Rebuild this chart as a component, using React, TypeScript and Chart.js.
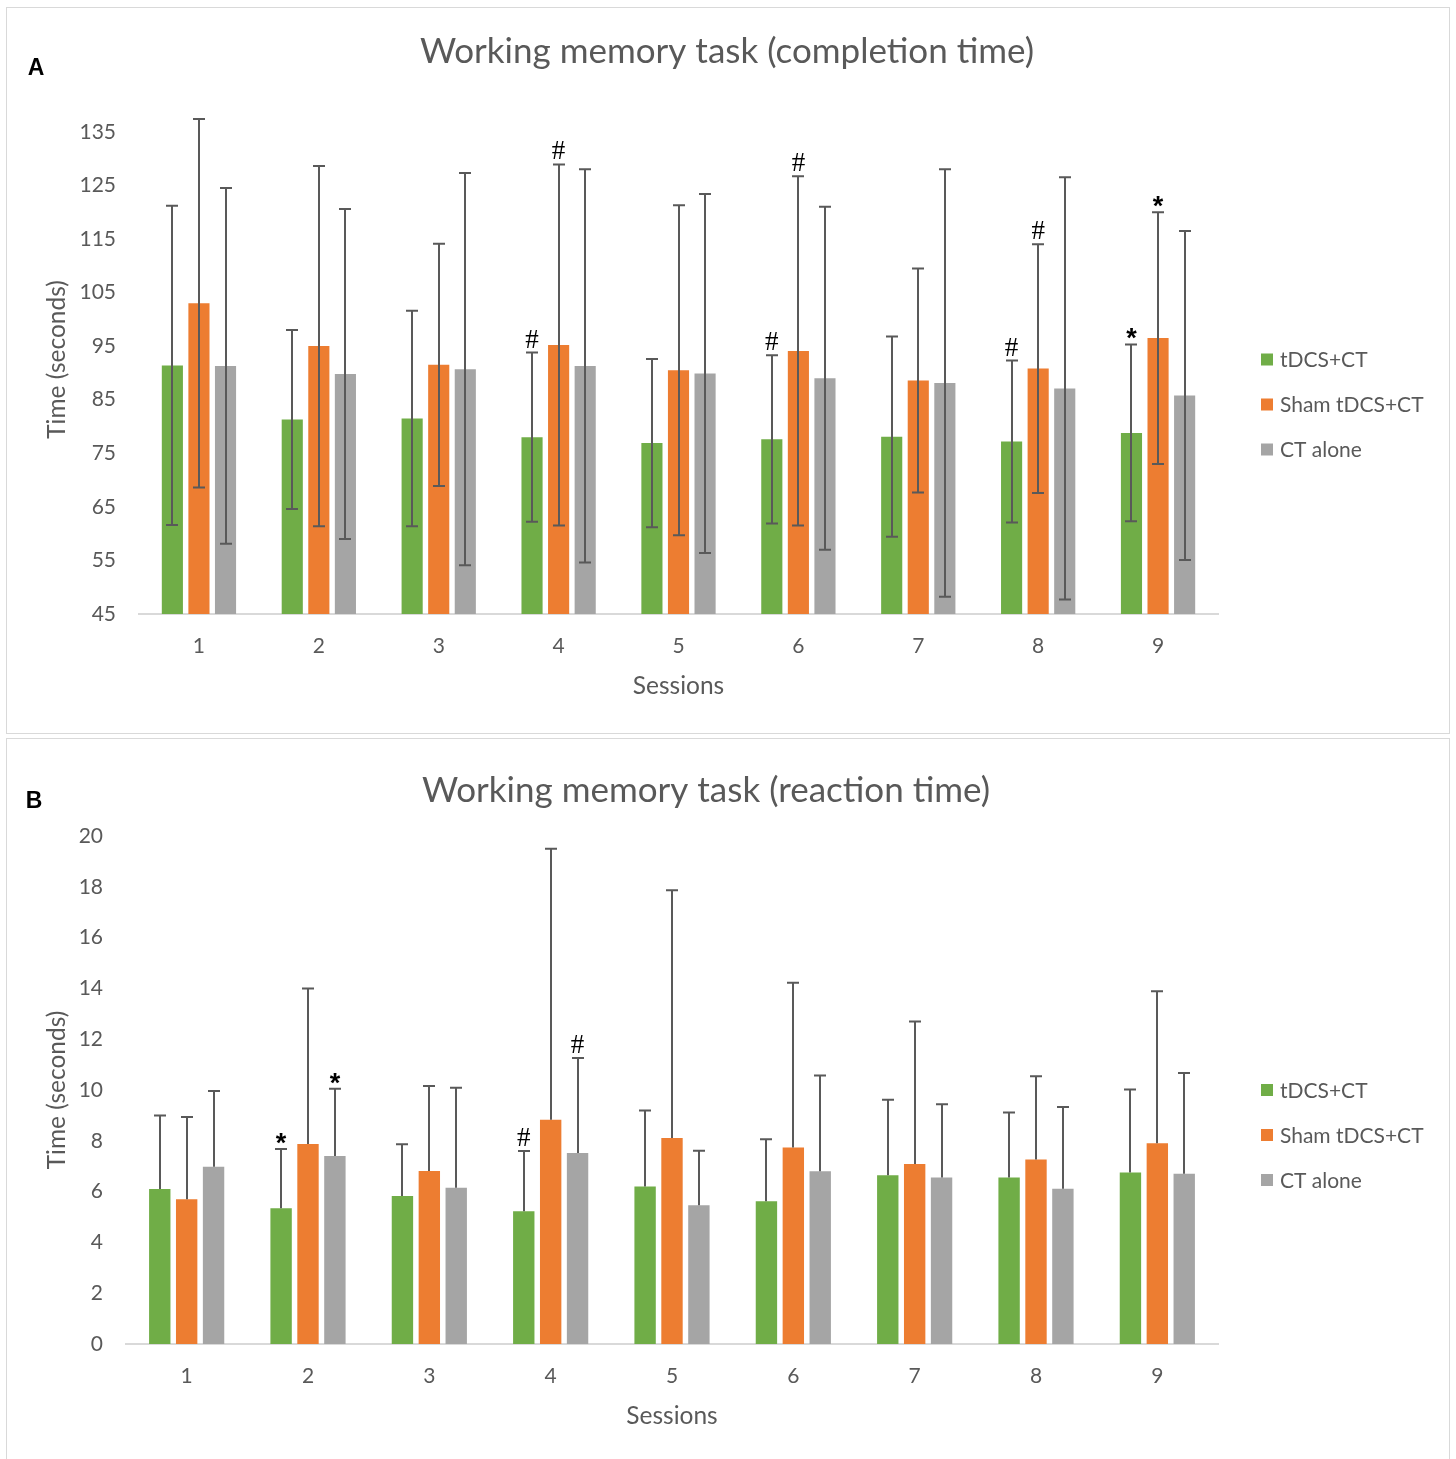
import React, { useEffect, useRef } from "react";
import { Chart, registerables } from "chart.js";

Chart.register(...registerables);

// ---------- data ----------
const SESSIONS = ["1", "2", "3", "4", "5", "6", "7", "8", "9"];
const SERIES_NAMES = ["tDCS+CT", "Sham tDCS+CT", "CT alone"];
const COLORS = ["#70AD47", "#ED7D31", "#A5A5A5"];

// Panel A: completion time (seconds), mean and SD
const A_MEAN_TDCS = [91.4, 81.3, 81.5, 78.0, 76.9, 77.6, 78.1, 77.2, 78.8];
const A_MEAN_SHAM = [103.0, 95.0, 91.5, 95.2, 90.5, 94.1, 88.6, 90.8, 96.5];
const A_MEAN_CT = [91.3, 89.8, 90.7, 91.3, 89.9, 89.0, 88.1, 87.1, 85.8];
const A_SD_TDCS = [29.8, 16.7, 20.1, 15.8, 15.7, 15.7, 18.7, 15.1, 16.5];
const A_SD_SHAM = [34.4, 33.6, 22.6, 33.7, 30.8, 32.6, 20.9, 23.2, 23.5];
const A_SD_CT = [33.2, 30.8, 36.6, 36.7, 33.5, 32.0, 39.9, 39.4, 30.7];
const A_TICKS = [45, 55, 65, 75, 85, 95, 105, 115, 125, 135];
// [series index, session index, symbol]
const A_MARKS: [number, number, string][] = [
  [0, 3, "#"], [1, 3, "#"],
  [0, 5, "#"], [1, 5, "#"],
  [0, 7, "#"], [1, 7, "#"],
  [0, 8, "*"], [1, 8, "*"],
];

// Panel B: reaction time (seconds), mean and SD (upper error bars only)
const B_MEAN_TDCS = [6.1, 5.34, 5.83, 5.23, 6.2, 5.62, 6.64, 6.56, 6.75];
const B_MEAN_SHAM = [5.7, 7.87, 6.81, 8.83, 8.11, 7.74, 7.09, 7.26, 7.9];
const B_MEAN_CT = [6.98, 7.4, 6.15, 7.52, 5.46, 6.8, 6.56, 6.11, 6.7];
const B_SD_TDCS = [2.9, 2.34, 2.03, 2.37, 2.99, 2.44, 2.98, 2.55, 3.27];
const B_SD_SHAM = [3.24, 6.13, 3.35, 10.67, 9.75, 6.48, 5.61, 3.28, 5.99];
const B_SD_CT = [2.98, 2.65, 3.94, 3.74, 2.15, 3.77, 2.88, 3.22, 3.97];
const B_TICKS = [0, 2, 4, 6, 8, 10, 12, 14, 16, 18, 20];
const B_MARKS: [number, number, string][] = [
  [0, 1, "*"], [2, 1, "*"],
  [0, 3, "#"], [2, 3, "#"],
];

const TEXT = "#595959";
const FONT = "Lato";

// ---------- decoration plugin (error bars, marks, title, legend) ----------
const decorPlugin = {
  id: "decor",
  afterDatasetsDraw(chart: any, _args: any, opts: any) {
    if (!opts || !opts.sd) return;
    const ctx = chart.ctx;
    const yS = chart.scales.y;
    ctx.save();
    ctx.strokeStyle = "#595959";
    ctx.lineWidth = 2;
    const caps: number[][] = [];
    chart.data.datasets.forEach((ds: any, d: number) => {
      const meta = chart.getDatasetMeta(d);
      caps[d] = [];
      meta.data.forEach((bar: any, i: number) => {
        const v = ds.data[i];
        const s = opts.sd[d][i];
        const yTop = yS.getPixelForValue(v + s);
        const yBot = yS.getPixelForValue(opts.upOnly ? v : v - s);
        caps[d][i] = yTop;
        const x = Math.round(bar.x);
        ctx.beginPath();
        ctx.moveTo(x, yTop);
        ctx.lineTo(x, yBot);
        ctx.moveTo(x - 6, yTop);
        ctx.lineTo(x + 6, yTop);
        if (!opts.upOnly) {
          ctx.moveTo(x - 6, yBot);
          ctx.lineTo(x + 6, yBot);
        }
        ctx.stroke();
      });
    });
    // significance marks
    ctx.fillStyle = "#000";
    ctx.textAlign = "center";
    ctx.textBaseline = "alphabetic";
    (opts.marks || []).forEach(([d, i, t]: [number, number, string]) => {
      const bar = chart.getDatasetMeta(d).data[i];
      const capY = caps[d][i];
      if (t === "#") {
        ctx.font = `27px "Liberation Serif"`;
        ctx.fillText(t, bar.x, capY - 5);
      } else {
        ctx.font = `bold 27px "Liberation Sans"`;
        ctx.fillText(t, bar.x, capY + 3);
      }
    });
    ctx.restore();
  },
  afterDraw(chart: any, _args: any, opts: any) {
    if (!opts || !opts.title) return;
    const ctx = chart.ctx;
    const area = chart.chartArea;
    ctx.save();
    // title
    ctx.fillStyle = TEXT;
    ctx.textAlign = "center";
    ctx.textBaseline = "middle";
    ctx.font = `35px ${FONT}`;
    ctx.fillText(opts.title, opts.titleX, opts.titleY);
    // panel letter
    ctx.fillStyle = "#000";
    ctx.font = `bold 23px "Liberation Sans"`;
    ctx.fillText(opts.letter, opts.letterX, opts.letterY);
    // legend
    const mid = (area.top + area.bottom) / 2;
    ctx.textAlign = "left";
    ctx.font = `21px ${FONT}`;
    chart.data.datasets.forEach((ds: any, k: number) => {
      const cy = mid + k * 45;
      const lx = area.right + 43;
      ctx.fillStyle = ds.backgroundColor;
      ctx.fillRect(lx, cy - 6, 12, 12);
      ctx.fillStyle = TEXT;
      ctx.fillText(ds.label, lx + 19, cy + 1);
    });
    ctx.restore();
  },
};

function makeConfig(p: {
  means: number[][];
  sds: number[][];
  ticks: number[];
  min: number;
  max: number;
  upOnly: boolean;
  marks: [number, number, string][];
  title: string;
  titleX: number;
  titleY: number;
  letter: string;
  letterX: number;
  letterY: number;
  yAxisWidth: number;
}): any {
  return {
    type: "bar",
    data: {
      labels: SESSIONS,
      datasets: p.means.map((m, k) => ({
        label: SERIES_NAMES[k],
        data: m,
        backgroundColor: COLORS[k],
        borderWidth: 0,
        categoryPercentage: 0.665,
        barPercentage: 0.795,
      })),
    },
    options: {
      responsive: false,
      animation: false,
      devicePixelRatio: 1,
      layout: { padding: { top: 97, right: 231, bottom: 0, left: 0 } },
      plugins: {
        legend: { display: false },
        title: { display: false },
        tooltip: { enabled: false },
        decor: {
          sd: p.sds,
          upOnly: p.upOnly,
          marks: p.marks,
          title: p.title,
          titleX: p.titleX,
          titleY: p.titleY,
          letter: p.letter,
          letterX: p.letterX,
          letterY: p.letterY,
        },
      },
      scales: {
        x: {
          offset: true,
          grid: { display: false, drawTicks: false },
          border: { display: true, color: "#D9D9D9", width: 2 },
          ticks: { color: TEXT, font: { family: FONT, size: 21 }, padding: 20 },
          title: {
            display: true,
            text: "Sessions",
            color: TEXT,
            font: { family: FONT, size: 24.5 },
            padding: { top: 0, bottom: 32 },
          },
          afterFit: (axis: any) => {
            axis.height = 119;
          },
        },
        y: {
          min: p.min,
          max: p.max,
          grid: { display: false, drawTicks: false },
          border: { display: false },
          afterBuildTicks: (axis: any) => {
            axis.ticks = p.ticks.map((v) => ({ value: v }));
          },
          ticks: { color: TEXT, font: { family: FONT, size: 21 }, padding: 23 },
          title: {
            display: true,
            text: "Time (seconds)",
            color: TEXT,
            font: { family: FONT, size: 24.5 },
            padding: { top: 35, bottom: 0 },
          },
          afterFit: (axis: any) => {
            axis.width = p.yAxisWidth;
          },
        },
      },
    },
    plugins: [decorPlugin],
  };
}

function Panel(props: { top: number; height: number; config: () => any }) {
  const ref = useRef<HTMLCanvasElement | null>(null);
  useEffect(() => {
    if (!ref.current) return;
    const chart = new Chart(ref.current, props.config());
    return () => chart.destroy();
  }, []);
  const w = 1442;
  const h = props.height - 2;
  return (
    <div
      style={{
        position: "absolute",
        left: 6,
        top: props.top,
        width: 1444,
        height: props.height,
        border: "1px solid #D9D9D9",
        boxSizing: "border-box",
        background: "#fff",
      }}
    >
      <canvas ref={ref} width={w} height={h} style={{ display: "block", width: w, height: h }} />
    </div>
  );
}

export default function App() {
  return (
    <div
      style={{
        position: "absolute",
        left: 0,
        top: 0,
        width: 1456,
        height: 1459,
        overflow: "hidden",
        background: "#fff",
      }}
    >
      <Panel
        top={7}
        height={727}
        config={() =>
          makeConfig({
            means: [A_MEAN_TDCS, A_MEAN_SHAM, A_MEAN_CT],
            sds: [A_SD_TDCS, A_SD_SHAM, A_SD_CT],
            ticks: A_TICKS,
            min: 45,
            max: 140,
            upOnly: false,
            marks: A_MARKS,
            title: "Working memory task (completion time)",
            titleX: 720,
            titleY: 44,
            letter: "A",
            letterX: 29,
            letterY: 61,
            yAxisWidth: 132,
          })
        }
      />
      <Panel
        top={738}
        height={726}
        config={() =>
          makeConfig({
            means: [B_MEAN_TDCS, B_MEAN_SHAM, B_MEAN_CT],
            sds: [B_SD_TDCS, B_SD_SHAM, B_SD_CT],
            ticks: B_TICKS,
            min: 0,
            max: 20,
            upOnly: true,
            marks: B_MARKS,
            title: "Working memory task (reaction time)",
            titleX: 699,
            titleY: 52,
            letter: "B",
            letterX: 27,
            letterY: 63,
            yAxisWidth: 119,
          })
        }
      />
    </div>
  );
}
